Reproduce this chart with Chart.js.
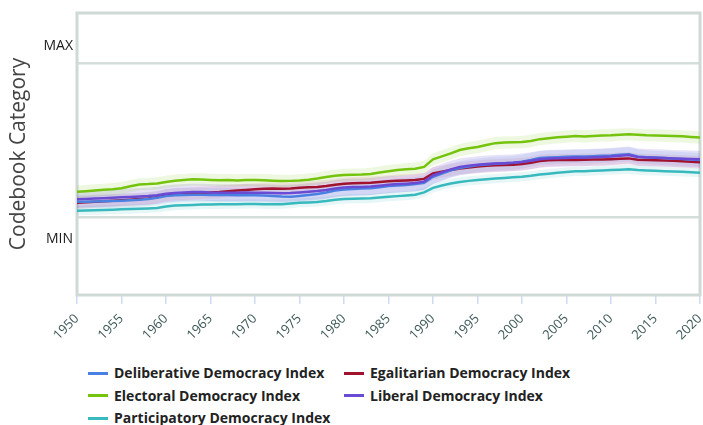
<!DOCTYPE html>
<html>
<head>
<meta charset="utf-8">
<script src="https://cdn.jsdelivr.net/npm/chart.js@4/dist/chart.umd.min.js"></script>
<style>
  body { margin: 0; background: #fff; }
  #wrap { position: relative; width: 703px; height: 340px; }
  #legend {
    position: absolute; left: 88px; top: 362px;
    display: grid; grid-template-columns: 256px 260px; row-gap: 0;
    font-family: "Open Sans", sans-serif; font-weight: bold; font-size: 14px; color: #222;
  }
  #legend div { height: 22.5px; line-height: 22.5px; white-space: nowrap; }
  #legend span { display: inline-block; width: 20px; height: 3px; vertical-align: middle; margin-right: 6px; position: relative; top: -1px; }
</style>
</head>
<body>
<div id="wrap"><canvas id="grafica"></canvas></div>
<div id="legend"></div>
<script>
// Años 1950-2020 (una observación por año)
var years = [];
for (var y = 1950; y <= 2020; y++) years.push(y);

var deliberative = [.099,.100,.101,.103,.104,.106,.109,.113,.118,.125,.136,.142,.144,.145,.145,.144,.143,.143,.142,.142,
  .141,.140,.137,.133,.132,.137,.143,.150,.160,.172,.179,.183,.185,.187,.194,.201,.205,.209,.214,.222,
  .262,.283,.303,.318,.328,.336,.341,.346,.349,.352,.360,.371,.384,.387,.389,.391,.394,.393,.395,.398,
  .400,.404,.408,.393,.389,.386,.383,.380,.377,.374,.371];
var egalitarian = [.093,.096,.100,.103,.106,.110,.113,.117,.120,.128,.143,.148,.151,.154,.157,.160,.163,.168,.172,.176,
  .180,.184,.185,.184,.186,.190,.193,.196,.202,.210,.217,.220,.222,.223,.227,.232,.236,.238,.241,.248,
  .283,.295,.306,.316,.322,.328,.333,.336,.338,.340,.344,.352,.364,.369,.370,.371,.370,.372,.373,.374,
  .376,.379,.381,.372,.370,.369,.367,.365,.362,.359,.356];
var electoral = [.164,.168,.173,.177,.181,.187,.200,.212,.214,.218,.228,.236,.240,.245,.244,.241,.239,.240,.238,.240,
  .240,.239,.236,.234,.235,.238,.243,.250,.260,.268,.273,.275,.276,.280,.290,.298,.305,.311,.314,.326,
  .375,.394,.414,.435,.447,.455,.468,.480,.484,.485,.487,.494,.506,.512,.518,.522,.527,.523,.527,.530,
  .531,.535,.537,.534,.531,.530,.528,.526,.524,.520,.516];
var liberal = [.115,.118,.120,.122,.125,.128,.131,.134,.137,.142,.152,.156,.159,.162,.162,.159,.158,.158,.158,.159,
  .158,.158,.156,.154,.156,.160,.164,.169,.176,.186,.192,.195,.196,.198,.204,.210,.214,.217,.221,.230,
  .270,.290,.310,.326,.334,.340,.344,.348,.350,.352,.358,.366,.376,.380,.382,.384,.386,.385,.388,.390,
  .393,.398,.403,.390,.387,.385,.383,.381,.379,.377,.375];
var participatory = [.041,.043,.045,.046,.048,.050,.052,.054,.056,.059,.068,.075,.077,.079,.081,.082,.083,.084,.084,.085,
  .085,.084,.084,.084,.088,.093,.095,.098,.104,.112,.117,.119,.120,.122,.127,.132,.136,.140,.145,.160,
  .190,.205,.218,.228,.235,.240,.245,.250,.254,.258,.262,.268,.276,.282,.287,.293,.298,.297,.300,.303,
  .305,.308,.310,.305,.302,.300,.298,.296,.294,.291,.288];

// Ancho estimado de la banda de incertidumbre de cada índice
var seriesNames = ['Deliberative Democracy Index', 'Egalitarian Democracy Index', 'Electoral Democracy Index',
  'Liberal Democracy Index', 'Participatory Democracy Index'];
var seriesData = [deliberative, egalitarian, electoral, liberal, participatory];
var bandHalfWidth = [0.045, 0.04, 0.04, 0.055, 0.03];
var colors = ['#4a80e2', '#a0122e', '#74c30c', '#6a4bd4', '#38b9bd'];
var bandColors = ['rgba(74,128,226,0.12)', 'rgba(190,40,80,0.10)', 'rgba(116,195,12,0.12)',
  'rgba(106,75,212,0.16)', 'rgba(56,185,189,0.12)'];

// Etiquetas del eje Y
var yTickLabels = { '1.11': 'MAX', '-0.14': 'MIN' };
var yGridValues = [0, 1];

function pts(arr, off) {
  return arr.map(function (v, i) { return { x: years[i], y: v + off }; });
}

var datasets = [];
seriesData.forEach(function (arr, k) {
  datasets.push({
    label: seriesNames[k], data: pts(arr, 0), borderColor: colors[k], borderWidth: 2.5,
    pointRadius: 0, fill: false, tension: 0, order: [1, 2, 4, 0, 3][k]
  });
});
seriesData.forEach(function (arr, k) {
  datasets.push({
    label: 'up' + k, data: pts(arr, bandHalfWidth[k]), borderWidth: 0, pointRadius: 0,
    backgroundColor: bandColors[k], fill: '+1', order: 10
  });
  datasets.push({
    label: 'lo' + k, data: pts(arr, -bandHalfWidth[k]), borderWidth: 0, pointRadius: 0,
    fill: false, order: 10
  });
});

// Marco gris alrededor del área de la gráfica
var framePlugin = {
  id: 'frame',
  beforeDatasetsDraw: function (chart) {
    var a = chart.chartArea, c = chart.ctx;
    c.save();
    c.strokeStyle = '#cfdad7';
    c.lineWidth = 3;
    c.strokeRect(a.left, a.top, a.right - a.left, a.bottom - a.top);
    c.restore();
  }
};

document.addEventListener('DOMContentLoaded', function () {
  var ctx = document.getElementById('grafica').getContext('2d');
  new Chart(ctx, {
    type: 'line',
    data: { datasets: datasets },
    options: {
      responsive: true,
      maintainAspectRatio: false,
      animation: false,
      layout: { padding: { top: 13, right: 3, left: 0, bottom: 0 } },
      plugins: { legend: { display: false }, tooltip: { enabled: false } },
      scales: {
        x: {
          type: 'linear', min: 1950, max: 2020,
          afterFit: function (s) { s.height = 45; s.paddingRight = 0; s.paddingLeft = 0; },
          ticks: {
            stepSize: 5, minRotation: 45, maxRotation: 45, padding: 7,
            color: '#3d5757', font: { family: 'Open Sans', size: 13 },
            callback: function (v) { return String(v); }
          },
          grid: { drawOnChartArea: false, color: '#cddcf3', tickLength: 9, lineWidth: 1.5 },
          border: { display: false }
        },
        y: {
          min: -0.506, max: 1.325,
          afterFit: function (s) { s.width = 77; },
          afterBuildTicks: function (s) {
            s.ticks = [{ value: -0.14 }, { value: 0 }, { value: 1 }, { value: 1.11 }];
          },
          ticks: {
            color: '#1a1a1a', padding: 4, font: { family: 'Open Sans', size: 14 },
            callback: function (v) { return yTickLabels[String(v)] || ''; }
          },
          grid: {
            drawTicks: false, lineWidth: 2.5,
            color: function (c) { return yGridValues.indexOf(c.tick.value) >= 0 ? '#d3dedb' : 'rgba(0,0,0,0)'; }
          },
          border: { display: false },
          title: {
            display: true, text: 'Codebook Category', color: '#444',
            font: { family: 'Open Sans', size: 21 }, padding: { top: 6, bottom: 0 }
          }
        }
      }
    },
    plugins: [framePlugin]
  });

  // Leyenda
  var leg = document.getElementById('legend');
  seriesNames.forEach(function (n, k) {
    var d = document.createElement('div');
    d.innerHTML = '<span style="background:' + colors[k] + '"></span>' + n;
    leg.appendChild(d);
  });
});
</script>
</body>
</html>
